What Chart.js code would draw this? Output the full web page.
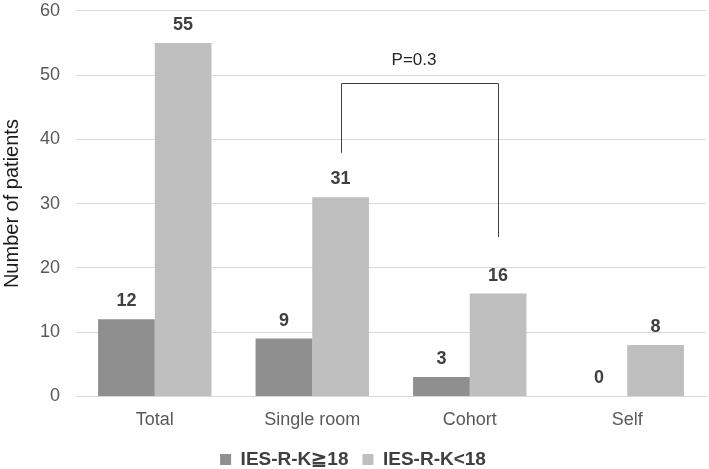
<!DOCTYPE html>
<html>
<head>
<meta charset="utf-8">
<script src="https://cdn.jsdelivr.net/npm/chart.js@4"></script>
<style>
  html, body { margin: 0; padding: 0; background: #fff; }
  #wrap { width: 709px; height: 469px; }
</style>
</head>
<body>
<div id="wrap"><canvas id="chart"></canvas></div>
<script>
// data
const categories = ['Total', 'Single room', 'Cohort', 'Self'];
const highScore = [12, 9, 3, 0];   // IES-R-K≧18
const lowScore  = [55, 31, 16, 8]; // IES-R-K<18
const yTicks = [0, 10, 20, 30, 40, 50, 60];

// significance bracket between Single room and Cohort (light bars)
const bracketFrom = 1, bracketTo = 2;
const bracketTop = 48.7, bracketLeftEnd = 37.9, bracketRightEnd = 24.8;
const bracketText = 'P=0.3', bracketTextAt = 52.3;

const FONT = 'Liberation Sans, Arial, sans-serif';
const Y_TICK_GAP = 16;

// labels above bars + bracket
const extras = {
    id: 'extras',
    afterDatasetsDraw(chart) {
        const ctx = chart.ctx;
        const y = chart.scales.y;
        ctx.save();
        ctx.font = 'bold 18px ' + FONT;
        ctx.fillStyle = '#404040';
        ctx.textAlign = 'center';
        ctx.textBaseline = 'middle';
        chart.data.datasets.forEach((ds, di) => {
            chart.getDatasetMeta(di).data.forEach((bar, i) => {
                ctx.fillText(String(ds.data[i]), bar.x, y.getPixelForValue(ds.data[i]) - 18);
            });
        });

        const bars = chart.getDatasetMeta(1).data;
        const x1 = Math.round(bars[bracketFrom].x) + 0.5;
        const x2 = Math.round(bars[bracketTo].x) + 0.5;
        const yt = Math.round(y.getPixelForValue(bracketTop)) + 0.5;
        ctx.strokeStyle = '#404040';
        ctx.lineWidth = 1;
        ctx.beginPath();
        ctx.moveTo(x1, y.getPixelForValue(bracketLeftEnd));
        ctx.lineTo(x1, yt);
        ctx.lineTo(x2, yt);
        ctx.lineTo(x2, y.getPixelForValue(bracketRightEnd));
        ctx.stroke();

        ctx.font = '17px ' + FONT;
        ctx.fillStyle = '#262626';
        ctx.fillText(bracketText, (x1 + x2) / 2 - 6, y.getPixelForValue(bracketTextAt));
        ctx.restore();
    }
};

new Chart(document.getElementById('chart'), {
    type: 'bar',
    data: {
        labels: categories,
        datasets: [
            { label: 'IES-R-K≧18', data: highScore, backgroundColor: '#8f8f8f' },
            { label: 'IES-R-K<18', data: lowScore, backgroundColor: '#bfbfbf' }
        ]
    },
    options: {
        responsive: true,
        maintainAspectRatio: false,
        animation: false,
        devicePixelRatio: 1,
        layout: { padding: { top: 0, right: 3, left: 0, bottom: -10 } },
        datasets: { bar: { categoryPercentage: 0.72, barPercentage: 1.0 } },
        plugins: {
            tooltip: { enabled: false },
            legend: {
                position: 'bottom',
                labels: {
                    font: { family: FONT, size: 19, weight: 'bold' },
                    color: '#404040',
                    usePointStyle: true,
                    pointStyle: 'rect',
                    boxWidth: 11,
                    boxHeight: 11,
                    padding: 14
                }
            }
        },
        scales: {
            x: {
                grid: { display: false },
                border: { color: '#d9d9d9' },
                ticks: { font: { family: FONT, size: 18 }, color: '#595959', padding: 5 }
            },
            y: {
                min: 0,
                max: 60,
                afterBuildTicks: (axis) => { axis.ticks = yTicks.map(v => ({ value: v })); },
                // tick padding would also pad top/bottom of the axis; take that back
                afterFit: (axis) => {
                    axis.paddingTop -= Y_TICK_GAP;
                    axis.paddingBottom -= Y_TICK_GAP;
                },
                grid: { color: '#d9d9d9', drawTicks: false },
                border: { display: false },
                ticks: { font: { family: FONT, size: 18 }, color: '#595959', padding: Y_TICK_GAP },
                title: {
                    display: true,
                    text: 'Number of patients',
                    font: { family: FONT, size: 20 },
                    color: '#1a1a1a',
                    padding: { top: 0, bottom: 0 }
                }
            }
        }
    },
    plugins: [extras]
});
</script>
</body>
</html>
